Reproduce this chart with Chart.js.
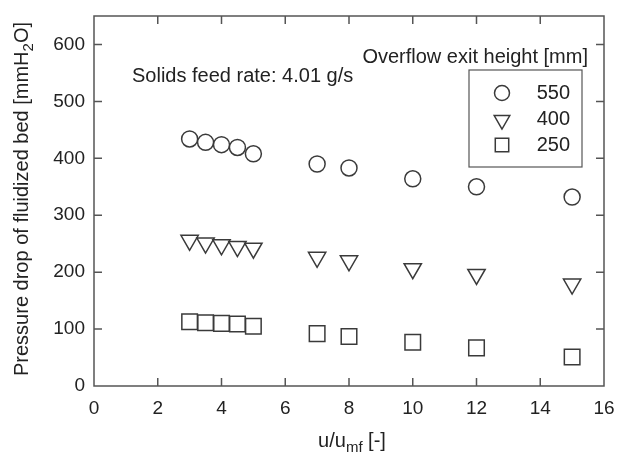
<!DOCTYPE html>
<html>
<head>
<meta charset="utf-8">
<script src="https://cdn.jsdelivr.net/npm/chart.js@4.4.1/dist/chart.umd.min.js"></script>
<style>
	html, body { margin: 0; padding: 0; background: #fff; }
	canvas { display: block; }
</style>
</head>
<body>
<canvas id="bed-chart" width="620" height="455"></canvas>
<script>
// u/umf values and pressure drop per overflow exit height
const velocityRatio = [3, 3.5, 4, 4.5, 5, 7, 8, 10, 12, 15];
const drop550 = [434, 428, 424, 419, 408, 390, 383, 364, 350, 332];
const drop400 = [256, 251, 248, 245, 242, 226, 220, 206, 196, 179];
const drop250 = [113, 111, 110, 109, 105, 92, 87, 77, 67, 51];
const seriesLabels = ['550', '400', '250'];
const xTicks = [0, 2, 4, 6, 8, 10, 12, 14, 16];
const yTicks = [0, 100, 200, 300, 400, 500, 600];

const ink = '#222',
	lineGray = '#555',
	font = '"Liberation Sans", Arial, sans-serif';

const markers = [
	{ style: 'circle', radius: 8, rotation: 0, legend: 7.5 },
	{ style: 'triangle', radius: 10, rotation: 180, legend: 9 },
	{ style: 'rect', radius: 11, rotation: 0, legend: 9.5 }
];

const toPoints = ys => velocityRatio.map((x, i) => ({ x, y: ys[i] }));

const datasets = [drop550, drop400, drop250].map((ys, i) => ({
	label: seriesLabels[i],
	data: toPoints(ys),
	pointStyle: markers[i].style,
	pointRadius: markers[i].radius,
	rotation: markers[i].rotation,
	backgroundColor: 'rgba(0,0,0,0)',
	borderColor: '#3a3a3a',
	borderWidth: 1.5,
	showLine: false
}));

// draws a run of [text, size, dy] pieces, centred on cx
const richText = (ctx, parts, cx, y) => {
	let w = 0;
	parts.forEach(([t, s]) => { ctx.font = `${s}px ${font}`; w += ctx.measureText(t).width; });
	let x = cx - w / 2;
	parts.forEach(([t, s, dy]) => {
		ctx.font = `${s}px ${font}`;
		ctx.fillText(t, x, y + dy);
		x += ctx.measureText(t).width;
	});
};

// box, inward ticks, titles, notes and the in-plot legend
const framePlugin = {
	id: 'frame',
	afterDraw(chart) {
		const { ctx, chartArea: a, scales } = chart;
		const tick = 8;
		ctx.save();
		ctx.strokeStyle = lineGray;
		ctx.lineWidth = 1.5;
		ctx.strokeRect(a.left, a.top, a.right - a.left, a.bottom - a.top);

		ctx.beginPath();
		xTicks.slice(1, -1).forEach(v => {
			const px = scales.x.getPixelForValue(v);
			ctx.moveTo(px, a.bottom); ctx.lineTo(px, a.bottom - tick);
			ctx.moveTo(px, a.top); ctx.lineTo(px, a.top + tick);
		});
		yTicks.slice(1).forEach(v => {
			const py = scales.y.getPixelForValue(v);
			ctx.moveTo(a.left, py); ctx.lineTo(a.left + tick, py);
			ctx.moveTo(a.right, py); ctx.lineTo(a.right - tick, py);
		});
		ctx.stroke();

		ctx.fillStyle = ink;
		ctx.textAlign = 'left';
		ctx.textBaseline = 'alphabetic';

		richText(ctx, [['u/u', 20, 0], ['mf', 15, 5], [' [-]', 20, 0]], (a.left + a.right) / 2 + 3, 447);

		ctx.save();
		ctx.translate(28, (a.top + a.bottom) / 2 - 2);
		ctx.rotate(-Math.PI / 2);
		richText(ctx, [['Pressure drop of fluidized bed [mmH', 20, 0], ['2', 15, 5], ['O]', 20, 0]], 0, 0);
		ctx.restore();

		// notes
		ctx.font = `20px ${font}`;
		ctx.textAlign = 'left';
		ctx.fillText('Solids feed rate: 4.01 g/s', 132, 82);
		ctx.textAlign = 'right';
		ctx.fillText('Overflow exit height [mm]', 588, 63);

		// legend box
		ctx.strokeStyle = lineGray;
		ctx.lineWidth = 1.2;
		ctx.strokeRect(469, 70, 113, 97);
		datasets.forEach((ds, i) => {
			const cy = 93 + i * 26;
			ctx.strokeStyle = '#3a3a3a';
			ctx.fillStyle = 'rgba(0,0,0,0)';
			ctx.lineWidth = 1.5;
			Chart.helpers.drawPoint(ctx, {
				pointStyle: ds.pointStyle,
				radius: markers[i].legend,
				rotation: ds.rotation,
				borderWidth: 1.5
			}, 502, cy + (i === 1 ? 1 : 0));
			ctx.fillStyle = ink;
			ctx.textAlign = 'right';
			ctx.textBaseline = 'middle';
			ctx.font = `20px ${font}`;
			ctx.fillText(ds.label, 570, cy);
		});
		ctx.restore();
	}
};

new Chart(document.getElementById('bed-chart'), {
	type: 'scatter',
	data: { datasets },
	options: {
		responsive: false,
		animation: false,
		layout: { padding: { top: 16, right: 16, left: 0, bottom: 0 } },
		plugins: {
			legend: { display: false },
			tooltip: { enabled: false }
		},
		scales: {
			x: {
				type: 'linear',
				min: 0,
				max: 16,
				afterBuildTicks: s => { s.ticks = xTicks.map(value => ({ value })); },
				afterFit: s => {
					s.height = 69;
					s.paddingLeft = 0;
					s.paddingRight = 0;
				},
				grid: { display: false, drawTicks: false },
				border: { display: false },
				ticks: { color: ink, padding: 11, font: { family: font, size: 19 } }
			},
			y: {
				type: 'linear',
				min: 0,
				max: 650,
				afterBuildTicks: s => { s.ticks = yTicks.map(value => ({ value })); },
				afterFit: s => {
					s.width = 94;
					s.paddingTop = 0;
					s.paddingBottom = 0;
				},
				grid: { display: false, drawTicks: false },
				border: { display: false },
				ticks: { color: ink, padding: 9, font: { family: font, size: 19 } }
			}
		}
	},
	plugins: [framePlugin]
});
</script>
</body>
</html>
